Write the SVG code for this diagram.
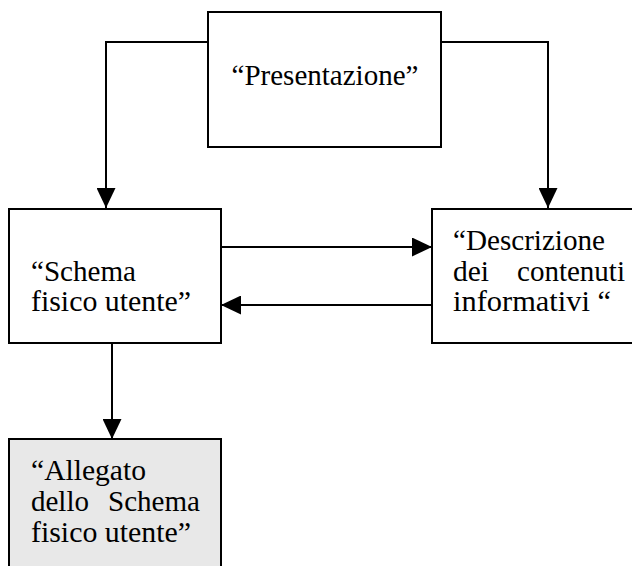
<svg xmlns="http://www.w3.org/2000/svg" width="632" height="566" viewBox="0 0 632 566">
<style>
.box{fill:#fff;stroke:#000;stroke-width:2}
.grey{fill:#e8e8e8}
.t{font-family:"Liberation Serif","Times New Roman",serif;font-size:30px;fill:#000}
.c{fill:none;stroke:#000;stroke-width:2}
</style>
<defs>
<marker id="ah" markerUnits="userSpaceOnUse" markerWidth="20" markerHeight="19" refX="20" refY="9.5" orient="auto">
<path d="M0,0 L20,9.5 L0,19 z" fill="#000"/>
</marker>
</defs>
<rect x="0" y="0" width="632" height="566" fill="#fff"/>
<g id="connectors">
<polyline class="c" points="208,42 106,42 106,208" marker-end="url(#ah)"/>
<polyline class="c" points="441,42 548,42 548,208" marker-end="url(#ah)"/>
<line class="c" x1="221" y1="247" x2="432" y2="247" marker-end="url(#ah)"/>
<line class="c" x1="432" y1="305" x2="221" y2="305" marker-end="url(#ah)"/>
<line class="c" x1="112" y1="343" x2="112" y2="439" marker-end="url(#ah)"/>
</g>
<g id="presentazione">
<rect class="box" x="208" y="12" width="233" height="135"/>
<text class="t" x="325" y="85" text-anchor="middle" textLength="187" lengthAdjust="spacingAndGlyphs">“Presentazione”</text>
</g>
<g id="schema">
<rect class="box" x="9" y="209" width="212" height="134"/>
<text class="t" x="31" y="281" textLength="105" lengthAdjust="spacingAndGlyphs">“Schema</text>
<text class="t" x="31" y="311" textLength="160" lengthAdjust="spacingAndGlyphs">fisico utente”</text>
</g>
<g id="descrizione">
<rect class="box" x="432" y="209" width="230" height="134"/>
<text class="t" x="453" y="250" textLength="152" lengthAdjust="spacingAndGlyphs">“Descrizione</text>
<text class="t" y="281"><tspan x="453" textLength="36" lengthAdjust="spacingAndGlyphs">dei</tspan><tspan x="517" textLength="108" lengthAdjust="spacingAndGlyphs">contenuti</tspan></text>
<text class="t" x="453" y="311" textLength="158" lengthAdjust="spacingAndGlyphs">informativi “</text>
</g>
<g id="allegato">
<rect class="box grey" x="9" y="439" width="212" height="160"/>
<text class="t" x="31" y="480" textLength="115" lengthAdjust="spacingAndGlyphs">“Allegato</text>
<text class="t" y="511"><tspan x="31" textLength="58" lengthAdjust="spacingAndGlyphs">dello</tspan><tspan x="108" textLength="92" lengthAdjust="spacingAndGlyphs">Schema</tspan></text>
<text class="t" x="31" y="542" textLength="160" lengthAdjust="spacingAndGlyphs">fisico utente”</text>
</g>
</svg>
